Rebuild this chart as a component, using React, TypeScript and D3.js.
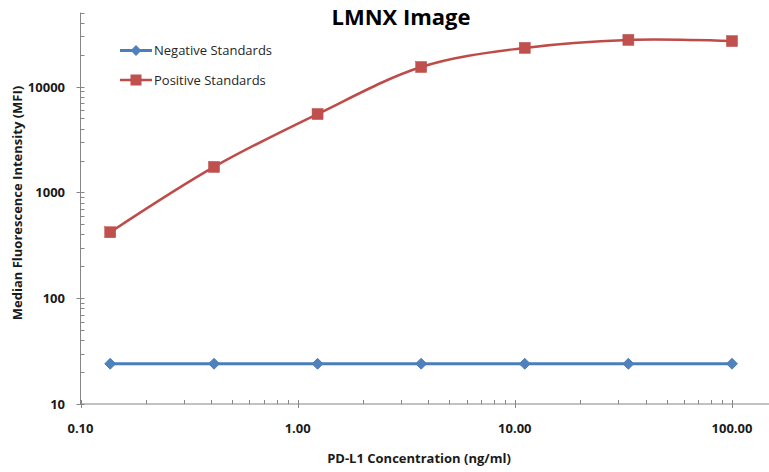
// @ts-nocheck
import { useEffect, useRef } from 'react'
import * as d3 from 'd3'

// concentrations (3-fold dilution series), ng/ml
const concentrations = [0.137, 0.412, 1.235, 3.704, 11.11, 33.33, 100]
const negativeStandards = [24, 24, 24, 24, 24, 24, 24]
const positiveStandards = [420, 1740, 5500, 15300, 23200, 27600, 26900]

const xTickLabels = ['0.10', '1.00', '10.00', '100.00']
const yTickLabels = ['10', '100', '1000', '10000']
const xMajor = [0.1, 1, 10, 100]
const yMajor = [10, 100, 1000, 10000]

const seriesNames = ['Negative Standards', 'Positive Standards']

const W = 769
const H = 472
const FONT = '"Open Sans", "Noto Sans", sans-serif'

export default function App() {
  const svgRef = useRef<any>()

  useEffect(() => {
    const svg = d3.select(svgRef.current)
    svg.selectAll('*').remove()

    const x = d3.scaleLog().domain([0.1, 100]).range([80.5, 732])
    const y = d3.scaleLog().domain([10, 50000]).range([404, 12.6])
    const axisColor = '#868686'

    // x axis
    const gx = svg.append('g')
    gx.append('line')
      .attr('x1', x(0.1)).attr('x2', W)
      .attr('y1', y(10)).attr('y2', y(10))
      .attr('stroke', axisColor).attr('stroke-width', 1)
    gx.selectAll('.minor')
      .data(x.ticks().filter((t) => !xMajor.includes(t)))
      .enter()
      .append('line')
      .attr('x1', (d) => Math.round(x(d)) + 0.5).attr('x2', (d) => Math.round(x(d)) + 0.5)
      .attr('y1', y(10) - 4).attr('y2', y(10))
      .attr('stroke', axisColor)
    gx.selectAll('.major')
      .data(xMajor)
      .enter()
      .append('line')
      .attr('x1', (d) => Math.round(x(d)) + 0.5).attr('x2', (d) => Math.round(x(d)) + 0.5)
      .attr('y1', y(10) - 4).attr('y2', y(10) + 4)
      .attr('stroke', axisColor)
    gx.selectAll('text')
      .data(xMajor)
      .enter()
      .append('text')
      .attr('x', (d) => x(d))
      .attr('y', y(10) + 29)
      .attr('text-anchor', 'middle')
      .attr('font-family', FONT)
      .attr('font-weight', 'bold')
      .attr('font-size', 13)
      .attr('fill', '#1a1a1a')
      .text((d, i) => xTickLabels[i])

    // y axis
    const gy = svg.append('g')
    gy.append('line')
      .attr('x1', x(0.1)).attr('x2', x(0.1))
      .attr('y1', y(50000)).attr('y2', y(10))
      .attr('stroke', axisColor)
    gy.selectAll('.minor')
      .data(y.ticks().filter((t) => !yMajor.includes(t)))
      .enter()
      .append('line')
      .attr('x1', x(0.1)).attr('x2', x(0.1) + 4)
      .attr('y1', (d) => Math.round(y(d)) + 0.5).attr('y2', (d) => Math.round(y(d)) + 0.5)
      .attr('stroke', axisColor)
    gy.selectAll('.major')
      .data(yMajor)
      .enter()
      .append('line')
      .attr('x1', x(0.1) - 4).attr('x2', x(0.1) + 4)
      .attr('y1', (d) => Math.round(y(d)) + 0.5).attr('y2', (d) => Math.round(y(d)) + 0.5)
      .attr('stroke', axisColor)
    gy.selectAll('text')
      .data(yMajor)
      .enter()
      .append('text')
      .attr('x', 65)
      .attr('y', (d) => y(d) + 5)
      .attr('text-anchor', 'end')
      .attr('font-family', FONT)
      .attr('font-weight', 'bold')
      .attr('font-size', 13)
      .attr('fill', '#1a1a1a')
      .text((d, i) => yTickLabels[i])

    // series
    const negPts = concentrations.map((c, i) => [x(c), y(negativeStandards[i])])
    const posPts = concentrations.map((c, i) => [x(c), y(positiveStandards[i])])

    svg.append('path')
      .attr('d', d3.line().curve(d3.curveCatmullRom.alpha(0))(negPts))
      .attr('fill', 'none').attr('stroke', '#4A7EBB').attr('stroke-width', 3)
    svg.append('path')
      .attr('d', d3.line().curve(d3.curveCatmullRom.alpha(0))(posPts))
      .attr('fill', 'none').attr('stroke', '#BE4B48').attr('stroke-width', 2.5)

    const diamond = d3.symbol().type(d3.symbolDiamond2).size(75)
    svg.append('g').selectAll('path')
      .data(negPts)
      .enter()
      .append('path')
      .attr('d', diamond)
      .attr('transform', (d) => `translate(${d[0]},${d[1]})`)
      .attr('fill', '#4F81BD').attr('stroke', '#4A7EBB').attr('stroke-width', 1)

    svg.append('g').selectAll('rect')
      .data(posPts)
      .enter()
      .append('rect')
      .attr('x', (d) => d[0] - 5.5).attr('y', (d) => d[1] - 5.5)
      .attr('width', 11).attr('height', 11)
      .attr('fill', '#C0504D').attr('stroke', '#BE4B48').attr('stroke-width', 0.5)

    // legend
    const legend = svg.append('g')
    const legendColors = [['#4A7EBB', '#4F81BD'], ['#BE4B48', '#C0504D']]
    seriesNames.forEach((name, i) => {
      const ly = 50.5 + i * 29.5
      legend.append('line')
        .attr('x1', 120).attr('x2', 152).attr('y1', ly).attr('y2', ly)
        .attr('stroke', legendColors[i][0]).attr('stroke-width', i === 0 ? 3 : 2.5)
      if (i === 0) {
        legend.append('path').attr('d', diamond)
          .attr('transform', `translate(136,${ly})`)
          .attr('fill', legendColors[i][1])
      } else {
        legend.append('rect')
          .attr('x', 136 - 5.5).attr('y', ly - 5.5).attr('width', 11).attr('height', 11)
          .attr('fill', legendColors[i][1])
      }
      legend.append('text')
        .attr('x', 154).attr('y', ly + 4.5)
        .attr('font-family', FONT).attr('font-size', 13)
        .attr('fill', '#262626')
        .text(name)
    })

    // title and axis titles
    svg.append('text')
      .attr('x', 401).attr('y', 25)
      .attr('text-anchor', 'middle')
      .attr('font-family', FONT).attr('font-weight', 'bold').attr('font-size', 22)
      .attr('fill', '#000')
      .text('LMNX Image')

    svg.append('text')
      .attr('x', 419).attr('y', 463)
      .attr('text-anchor', 'middle')
      .attr('font-family', FONT).attr('font-weight', 'bold').attr('font-size', 13)
      .attr('fill', '#1a1a1a')
      .text('PD-L1 Concentration (ng/ml)')

    svg.append('text')
      .attr('transform', 'translate(22,203) rotate(-90)')
      .attr('text-anchor', 'middle')
      .attr('font-family', FONT).attr('font-weight', 'bold').attr('font-size', 13)
      .attr('fill', '#1a1a1a')
      .text('Median Fluorescence Intensity (MFI)')
  }, [])

  return (
    <svg
      ref={svgRef}
      width={W}
      height={H}
      style={{ position: 'absolute', left: 0, top: 0, background: '#fff' }}
    ></svg>
  )
}
